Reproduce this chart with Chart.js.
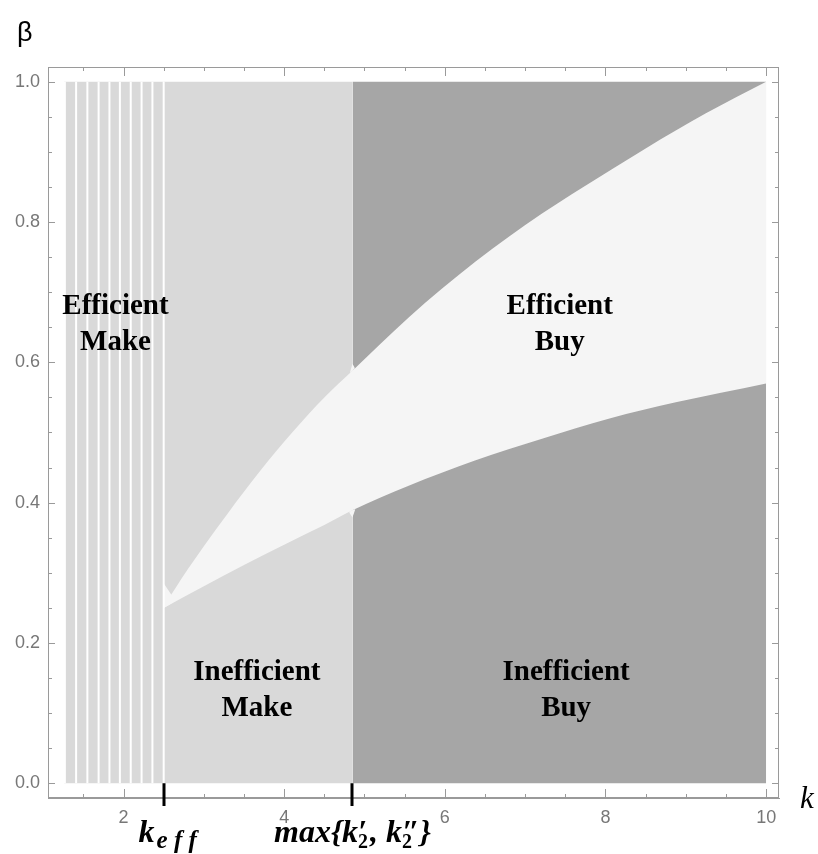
<!DOCTYPE html>
<html>
<head>
<meta charset="utf-8">
<script src="https://cdn.jsdelivr.net/npm/chart.js@4.4.1/dist/chart.umd.min.js"></script>
<style>
  body { margin: 0; background: #fff; }
  #wrap { width: 818px; height: 854px; }
</style>
</head>
<body>
<div id="wrap"><canvas id="chart"></canvas></div>
<script>
// region edges along k
const kStart = 1.26;
const kEff = 2.5;
const kMax2 = 4.85;
const kEnd = 10;

// white stripes inside the "Efficient Make" band
const stripeK = [1.27, 1.41, 1.55, 1.69, 1.825, 1.955, 2.09, 2.225, 2.36, 2.5];

// upper edge of the Efficient Buy wedge
const upperK    = [2.5, 2.8, 3.0, 3.3, 3.7, 4.1, 4.5, 4.85, 5.55, 6.375, 7.21, 7.71, 8.5, 9.25, 10];
const upperBeta = [0.252, 0.305, 0.338, 0.385, 0.445, 0.5, 0.55, 0.588, 0.664, 0.743, 0.812, 0.849, 0.905, 0.955, 1.0];

// lower edge of the Efficient Buy wedge
const lowerK    = [2.5, 3.0, 3.5, 4.0, 4.5, 4.85, 5.55, 6.375, 7.21, 8.05, 8.875, 10];
const lowerBeta = [0.25, 0.281, 0.311, 0.34, 0.368, 0.389, 0.424, 0.46, 0.491, 0.52, 0.543, 0.57];

// small white notches where the regions meet
const tipNotchK = [2.5, 2.6];
const tipNotchBeta = [0.285, 0.268];
const upperNotchK = [4.82, 4.85, 4.88];
const upperNotchBeta = [0.586, 0.598, 0.592];
const lowerNotchK = [4.81, 4.85, 4.89];
const lowerNotchBeta = [0.386, 0.379, 0.392];

// region names and where they sit
const regionNames = [['Efficient', 'Make'], ['Inefficient', 'Make'], ['Efficient', 'Buy'], ['Inefficient', 'Buy']];
const regionK     = [1.9, 3.66, 7.43, 7.51];
const regionBeta  = [0.654, 0.132, 0.654, 0.132];

// x and y tick labels
const xLabelled = [2, 4, 6, 8, 10];
const yLabelled = [0, 0.2, 0.4, 0.6, 0.8, 1.0];

const light = '#d9d9d9';
const dark = '#a6a6a6';
const wedge = '#f5f5f5';
const frameColor = '#9a9a9a';

function pts(xs, ys) {
    return xs.map((x, i) => ({ x: x, y: ys[i] }));
}

function near(v, list) {
    return list.some(l => Math.abs(l - v) < 1e-6);
}

const stripePts = [];
for (const k of stripeK) {
    stripePts.push({ x: k, y: 0 }, { x: k, y: 1 }, { x: k, y: null });
}

const base = { showLine: true, pointRadius: 0, borderWidth: 0, borderColor: 'rgba(0,0,0,0)', tension: 0 };

function drawRuns(ctx, runs, cx, baseline) {
    let w = 0;
    for (const r of runs) {
        ctx.font = r.font;
        r.w = ctx.measureText(r.t).width + (r.gap || 0);
        if (r.prime) {
            ctx.font = r.primeFont;
            r.w = Math.max(r.w, ctx.measureText(r.prime).width);
        }
        w += r.w;
    }
    let x = cx - w / 2;
    for (const r of runs) {
        ctx.font = r.font;
        ctx.fillText(r.t, x, baseline + (r.dy || 0));
        if (r.prime) {
            ctx.font = r.primeFont;
            ctx.fillText(r.prime, x, baseline);
        }
        x += r.w;
    }
}

const decor = {
    id: 'decor',
    afterDatasetsDraw(chart) {
        const { ctx, chartArea: a, scales: { x, y } } = chart;
        ctx.save();

        // region names
        ctx.fillStyle = '#000';
        ctx.font = 'bold 29px "Liberation Serif"';
        ctx.textAlign = 'center';
        ctx.textBaseline = 'middle';
        regionNames.forEach((lines, i) => {
            const px = x.getPixelForValue(regionK[i]);
            const py = y.getPixelForValue(regionBeta[i]);
            ctx.fillText(lines[0], px, py - 18);
            ctx.fillText(lines[1], px, py + 18);
        });

        // frame
        ctx.strokeStyle = frameColor;
        ctx.lineWidth = 1;
        ctx.strokeRect(a.left + 0.5, a.top + 0.5, a.right - a.left - 1, a.bottom - a.top - 1);

        // inward ticks on all four sides
        ctx.beginPath();
        x.ticks.forEach(t => {
            const px = Math.round(x.getPixelForValue(t.value)) + 0.5;
            const len = near(t.value, xLabelled) ? 9 : 4;
            ctx.moveTo(px, a.bottom); ctx.lineTo(px, a.bottom - len);
            ctx.moveTo(px, a.top); ctx.lineTo(px, a.top + len);
        });
        y.ticks.forEach(t => {
            const py = Math.round(y.getPixelForValue(t.value)) + 0.5;
            const len = near(t.value, yLabelled) ? 7 : 4;
            ctx.moveTo(a.left, py); ctx.lineTo(a.left + len, py);
            ctx.moveTo(a.right, py); ctx.lineTo(a.right - len, py);
        });
        ctx.stroke();

        // the two marked thresholds
        ctx.strokeStyle = '#000';
        ctx.lineWidth = 3;
        ctx.beginPath();
        for (const k of [kEff, kMax2]) {
            const px = Math.round(x.getPixelForValue(k));
            ctx.moveTo(px, y.getPixelForValue(0));
            ctx.lineTo(px, a.bottom + 8);
        }
        ctx.stroke();

        ctx.textAlign = 'left';
        ctx.textBaseline = 'alphabetic';
        const big = 'bold italic 32px "Liberation Serif"';
        const small = 'bold italic 25px "Liberation Serif"';
        const sub = 'bold 20px "Liberation Serif"';
        drawRuns(ctx, [
            { t: 'k', font: big, gap: 2 },
            { t: 'e f f', font: small, dy: 6 }
        ], x.getPixelForValue(kEff) + 4, a.bottom + 44);
        drawRuns(ctx, [
            { t: 'max{k', font: big },
            { t: '2', font: sub, dy: 6, prime: '\u2032', primeFont: big, gap: 2 },
            { t: ', k', font: big },
            { t: '2', font: sub, dy: 6, prime: '\u2033', primeFont: big, gap: 2 },
            { t: '}', font: big }
        ], x.getPixelForValue(kMax2), a.bottom + 44);

        // axis names
        ctx.font = '27px "Liberation Sans"';
        ctx.fillText('\u03b2', a.left - 31, a.top - 26);
        ctx.font = 'italic 31px "Liberation Serif"';
        ctx.fillText('k', a.right + 21, a.bottom + 10);

        ctx.restore();
    }
};

new Chart(document.getElementById('chart'), {
    type: 'scatter',
    data: {
        datasets: [
            { ...base, data: stripePts, borderColor: '#ffffff', borderWidth: 2, order: 1 },
            { ...base, data: pts(upperK, upperBeta), fill: 2, backgroundColor: wedge, cubicInterpolationMode: 'monotone', order: 8 },
            { ...base, data: pts(lowerK, lowerBeta), fill: false, cubicInterpolationMode: 'monotone', order: 9 },
            { ...base, data: pts(tipNotchK, tipNotchBeta), fill: 2, backgroundColor: wedge, order: 7 },
            { ...base, data: pts(upperNotchK, upperNotchBeta), fill: 1, backgroundColor: wedge, order: 7 },
            { ...base, data: pts(lowerNotchK, lowerNotchBeta), fill: 2, backgroundColor: wedge, order: 7 },
            { ...base, data: pts([kStart, kEff], [1, 1]), fill: { value: 0 }, backgroundColor: light, order: 10 },
            { ...base, data: pts([kEff, kMax2], [1, 1]), fill: { value: 0 }, backgroundColor: light, order: 10 },
            { ...base, data: pts([kMax2, kEnd], [1, 1]), fill: { value: 0 }, backgroundColor: dark, order: 10 }
        ]
    },
    plugins: [decor],
    options: {
        responsive: true,
        maintainAspectRatio: false,
        animation: false,
        layout: { padding: { top: 67, right: 39, left: 0, bottom: 0 } },
        plugins: { legend: { display: false }, tooltip: { enabled: false } },
        scales: {
            x: {
                type: 'linear',
                min: 1.06,
                max: 10.16,
                afterFit(s) { s.height = 56; },
                grid: { display: false, drawTicks: false },
                border: { display: true, color: frameColor },
                ticks: {
                    stepSize: 0.5,
                    includeBounds: false,
                    autoSkip: false,
                    maxRotation: 0,
                    padding: 9,
                    color: '#777777',
                    font: { family: 'Liberation Sans', size: 18 },
                    callback: v => near(v, xLabelled) ? String(Math.round(v)) : ''
                }
            },
            y: {
                type: 'linear',
                min: -0.021,
                max: 1.021,
                afterFit(s) { s.width = 48; },
                grid: { display: false, drawTicks: false },
                border: { display: true, color: frameColor },
                ticks: {
                    stepSize: 0.05,
                    includeBounds: false,
                    autoSkip: false,
                    padding: 8,
                    color: '#777777',
                    font: { family: 'Liberation Sans', size: 18 },
                    callback: v => near(v, yLabelled) ? v.toFixed(1) : ''
                }
            }
        }
    }
});
</script>
</body>
</html>
